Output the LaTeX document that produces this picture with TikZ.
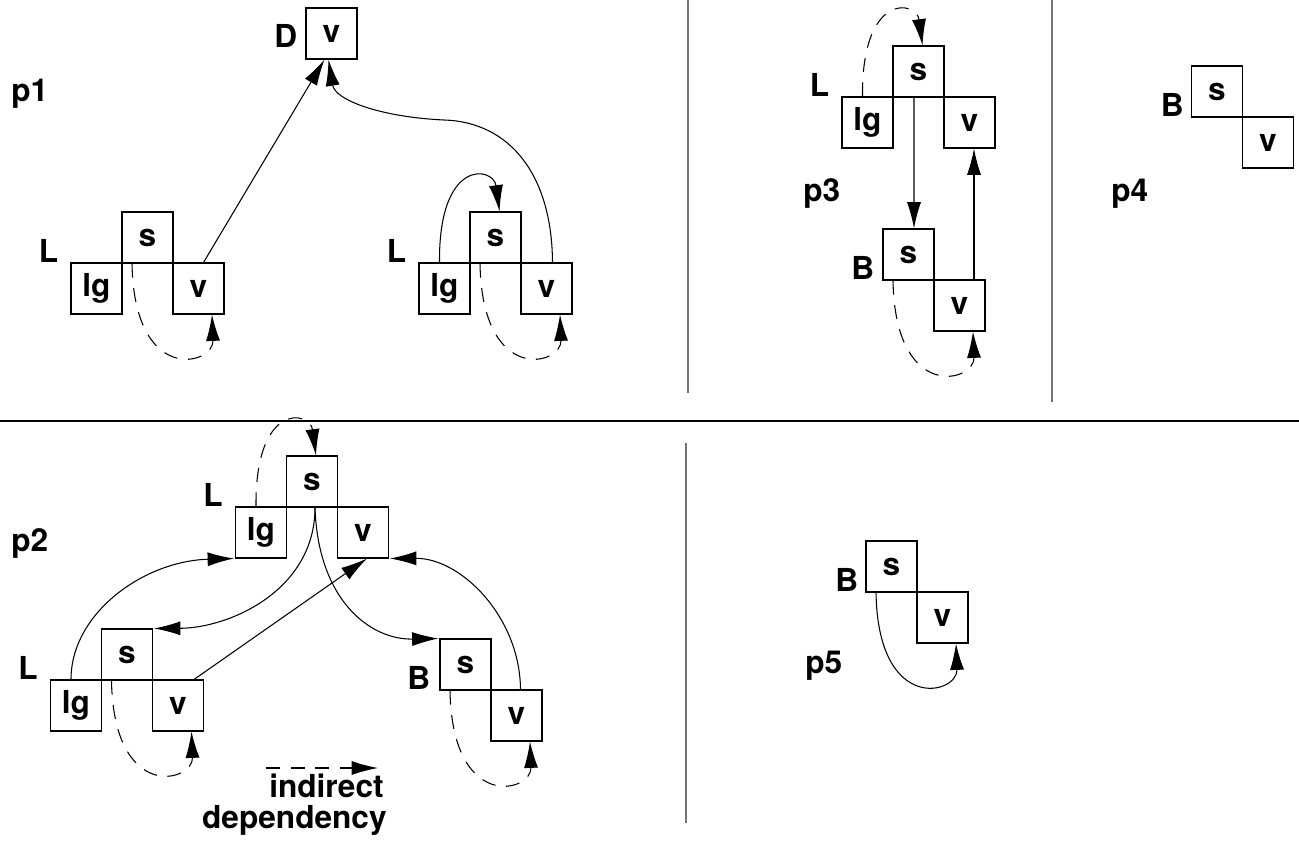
\documentclass[tikz,border=0pt]{standalone}
\usepackage{fontspec}
\setmainfont{TeX Gyre Heros}
\usetikzlibrary{arrows.meta,calc}

% loop under a cell pair: from the bottom of s round to the bottom of v
\newcommand\underloop[3]{%
  \draw[#1] ($(#2.south)+(-15.5,0)$) .. controls ($(#2.south)+(-13.5,122)$)
    and ($(#3.south)+(15.5,51)$) .. ($(#3.south)+(13.5,0)$);}
% loop over a cell pair: from the top of lg round to the top of s
\newcommand\overloop[3]{%
  \draw[#1] ($(#2.north)+(-5,0)$) .. controls ($(#2.north)+(-6,-105)$)
    and ($(#3.north)+(-2,-45)$) .. ($(#3.north)+(4,0)$);}

\begin{document}
\begin{tikzpicture}[x=0.02cm,y=-0.02cm,
  every node/.style={font=\fontsize{18}{21}\selectfont\bfseries},
  cell/.style={draw, line width=0.6pt, minimum size=1.02cm, inner sep=0pt},
  tag/.style={inner sep=0pt, anchor=base east},
  plabel/.style={inner sep=0pt, anchor=base west},
  dep/.style={line width=0.6pt, -{Latex[length=15pt,width=8pt]}},
  indirect/.style={dep, dash pattern=on 8pt off 6pt},
  divider/.style={line width=0.6pt, black!55},
]
\useasboundingbox (0,0) rectangle (1299,841);

% ---- panel separators
\draw[line width=0.7pt] (0,421) -- (1299,421);
\draw[divider] (688,0) -- (688,393);
\draw[divider] (1052,0) -- (1052,402);
\draw[divider] (686,443) -- (686,823);

% ---- p1
\node[plabel] (p1) at (11,102) {p1};
\node[cell] (Dv) at (331.5,33.5) {v};
\node[tag] (Dtag) at ($(Dv.west)+(-8,14.5)$) {D};

\node[cell] (aS) at (147.5,237.5) {s};
\node[cell] (aLg) at ($(aS)+(-51,51)$) {lg};
\node[cell] (aV) at ($(aS)+(51,51)$) {v};
\node[tag] (aTag) at ($(aLg.north west)+(-12,0)$) {L};

\node[cell] (bS) at (495.5,237.5) {s};
\node[cell] (bLg) at ($(bS)+(-51,51)$) {lg};
\node[cell] (bV) at ($(bS)+(51,51)$) {v};
\node[tag] (bTag) at ($(bLg.north west)+(-12,0)$) {L};

\draw[dep] ($(aV.north)+(5,0)$) -- ($(Dv.south)+(-7,0)$);
\underloop{indirect}{aS}{aV}
\overloop{dep}{bLg}{bS}
\underloop{indirect}{bS}{bV}
\draw[dep] ($(bV.north)+(6,0)$) .. controls (552,175) and (510,122) .. (444,120)
  .. controls (380,117) and (335,100) .. ($(Dv.south)+(-3,0)$);

% ---- p3
\node[plabel] (p3) at (803,202) {p3};
\node[cell] (cS) at (918.5,71.5) {s};
\node[cell] (cLg) at ($(cS)+(-51,51)$) {lg};
\node[cell] (cV) at ($(cS)+(51,51)$) {v};
\node[tag] (cTag) at ($(cLg.north west)+(-12,0)$) {L};

\node[cell] (dS) at (908.5,254.5) {s};
\node[cell] (dV) at ($(dS)+(51,51)$) {v};
\node[tag] (dTag) at ($(dS.south west)+(-8,-1)$) {B};

\overloop{indirect}{cLg}{cS}
\draw[dep] ($(cS.south)+(-4.5,0)$) -- ($(dS.north)+(5.5,0)$);
\draw[dep] ($(dV.north)+(14.5,0)$) -- ($(cV.south)+(4.5,0)$);
\underloop{indirect}{dS}{dV}

% ---- p4
\node[plabel] (p4) at (1111,202) {p4};
\node[cell] (eS) at (1217,91.5) {s};
\node[cell] (eV) at ($(eS)+(51,51)$) {v};
\node[tag] (eTag) at ($(eS.south west)+(-7,-1)$) {B};

% ---- p2
\node[plabel] (p2) at (11,551) {p2};
\node[cell] (fS) at (312,481.5) {s};
\node[cell] (fLg) at ($(fS)+(-51,51)$) {lg};
\node[cell] (fV) at ($(fS)+(51,51)$) {v};
\node[tag] (fTag) at ($(fLg.north west)+(-12,0)$) {L};

\node[cell] (gS) at (127,654.5) {s};
\node[cell] (gLg) at ($(gS)+(-51,51)$) {lg};
\node[cell] (gV) at ($(gS)+(51,51)$) {v};
\node[tag] (gTag) at ($(gLg.north west)+(-12,0)$) {L};

\node[cell] (hS) at (465.5,664.5) {s};
\node[cell] (hV) at ($(hS)+(51,51)$) {v};
\node[tag] (hTag) at ($(hS.south west)+(-9,-1)$) {B};

\overloop{indirect}{fLg}{fS}
\underloop{indirect}{gS}{gV}
\underloop{indirect}{hS}{hV}
\draw[dep] ($(gLg.north)+(-5,0)$) .. controls (71,613) and (144,561) .. ($(fLg.south west)+(-1,0)$);
\draw[dep] ($(fS.south)+(3,0)$) .. controls (315,590) and (230,628) .. ($(gS.north east)+(1,0)$);
\draw[dep] ($(gV.north)+(16,0)$) -- ($(fV.south)+(4,0)$);
\draw[dep] ($(fS.south)+(3,0)$) .. controls (318,600) and (370,640) .. ($(hS.north west)+(-1,0)$);
\draw[dep] ($(hV.north)+(4,0)$) .. controls (520,617) and (461,558) .. ($(fV.south east)+(1,0)$);

% legend
\coordinate (legA) at (266,768);
\coordinate (legB) at (378,768);
\draw[indirect] (legA) -- (legB);
\node[tag] (legT1) at (384,797) {indirect};
\node[tag] (legT2) at (387,828) {dependency};

% ---- p5
\node[plabel] (p5) at (805,673) {p5};
\node[cell] (iS) at (891.5,566.5) {s};
\node[cell] (iV) at ($(iS)+(51,51)$) {v};
\node[tag] (iTag) at ($(iS.south west)+(-7,-1)$) {B};
\underloop{dep}{iS}{iV}

\end{tikzpicture}
\end{document}
